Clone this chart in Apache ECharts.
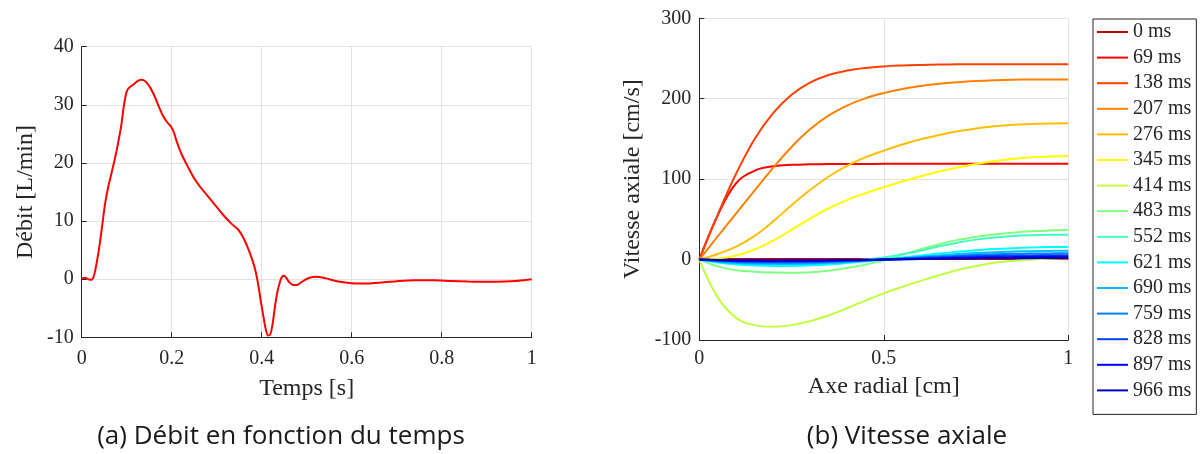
<!DOCTYPE html>
<html><head><meta charset="utf-8">
<script src="https://cdn.jsdelivr.net/npm/echarts@6/dist/echarts.min.js"></script>
<style>html,body{margin:0;padding:0;background:#fff}#c{width:1200px;height:454px}</style>
</head><body><div id="c"></div>
<script>
// ---- (a) Débit en fonction du temps ----
const timeS = [0,0.008,0.015,0.022,0.028,0.033,0.04,0.046,0.052,0.059,0.067,0.074,0.081,0.088,0.094,0.1,0.106,0.115,0.125,0.133,0.142,0.152,0.163,0.174,0.182,0.19,0.198,0.205,0.212,0.222,0.235,0.248,0.263,0.278,0.296,0.315,0.332,0.348,0.358,0.367,0.376,0.385,0.392,0.398,0.404,0.409,0.414,0.419,0.424,0.429,0.434,0.44,0.445,0.449,0.455,0.462,0.47,0.478,0.49,0.505,0.52,0.535,0.55,0.57,0.6,0.63,0.66,0.7,0.74,0.78,0.82,0.86,0.9,0.94,0.97,1.0];
const debit = [0.1,0.25,0.0,-0.1,0.8,2.7,6.0,9.5,13.0,15.9,18.5,20.8,23.5,26.5,30.0,32.3,33.0,33.5,34.1,34.3,34.0,33.0,31.3,29.2,27.9,27.0,26.3,25.2,23.5,21.5,19.5,17.6,15.9,14.5,12.8,11.0,9.6,8.5,7.3,5.8,4.0,1.8,-0.8,-3.8,-6.5,-8.6,-9.7,-9.5,-7.8,-5.0,-2.5,-0.6,0.4,0.6,0.2,-0.6,-1.0,-1.0,-0.4,0.2,0.4,0.3,0.0,-0.4,-0.7,-0.75,-0.6,-0.35,-0.2,-0.2,-0.3,-0.4,-0.45,-0.4,-0.25,0.0];

// ---- (b) Vitesse axiale ----
const radial = [0,0.05,0.1,0.15,0.2,0.25,0.3,0.35,0.4,0.45,0.5,0.55,0.6,0.65,0.7,0.75,0.8,0.85,0.9,0.95,1];
const vitesse0ms   = [0,0.8,0.8,0.8,0.8,0.8,0.8,0.8,0.8,0.8,0.8,0.8,0.8,0.8,0.8,0.8,0.8,0.8,0.8,0.8,0.8];
const vitesse69ms  = [0,55,95,110.5,116,117.8,118.4,118.7,118.8,118.9,119,119,119,119,119,119,119,119,119,119,119];
const vitesse138ms = [0,56,107,150,182,205,220,229.5,235,238.3,240.2,241.3,242,242.5,242.8,243,243,243,243,243,243];
const vitesse207ms = [0,29,57.5,86,114,140,162,179,191.5,200.5,207,212,215.7,218.5,220.5,222,223,223.6,223.9,224,224];
const vitesse276ms = [0,7,16,29.5,47.5,67.5,86.5,103,116.5,127,135.5,143,149.5,155,159.5,163,165.7,167.6,168.7,169.3,169.5];
const vitesse345ms = [0,1.2,5,12.5,23.5,37,51,63.5,74,82.5,90,97,103.5,109.5,114.5,118.8,122.5,125.2,127.1,128.2,128.7];
const vitesse414ms = [0,-47,-72.5,-81.5,-83.4,-81.5,-76.5,-69.5,-60.5,-51,-42,-34,-26.5,-19.5,-13,-8,-4,-1.5,0,1,1.5];
const vitesse483ms = [0,-8.5,-13.2,-15,-16,-16.3,-15.8,-13.8,-10.5,-6.3,-1,6,13,19,24.5,28.3,31.2,33.5,35.2,36.3,36.8];
const vitesse552ms = [0,-2.8,-4.5,-5.4,-5.7,-5.5,-4.8,-3.5,-1.8,0,2.5,6.5,11,16.5,21,24.8,27.5,29.3,30.3,30.8,31];
const vitesse621ms = [0,-3.8,-6.2,-7.5,-8,-7.9,-7.2,-6,-4.3,-2.3,0,2.5,5,7.5,9.7,11.6,13.1,14.2,15,15.5,15.7];
const vitesse690ms = [0,-2.7,-4.3,-5.2,-5.6,-5.5,-5,-4.2,-3,-1.6,0,1.7,3.5,5.2,6.8,8.1,9.2,9.9,10.5,10.8,11];
const vitesse759ms = [0,-1.9,-3.1,-3.7,-4,-3.9,-3.6,-3,-2.1,-1.1,0,1.2,2.5,3.7,4.8,5.8,6.5,7.1,7.5,7.7,7.8];
const vitesse828ms = [0,-1.3,-2.2,-2.6,-2.8,-2.8,-2.5,-2.1,-1.5,-0.8,0,0.9,1.8,2.6,3.4,4.1,4.6,5,5.2,5.4,5.5];
const vitesse897ms = [0,-0.8,-1.4,-1.6,-1.8,-1.7,-1.6,-1.3,-0.9,-0.5,0,0.5,1.1,1.6,2.1,2.5,2.9,3.1,3.3,3.4,3.5];
const vitesse966ms = [0,-0.5,-0.7,-0.9,-1,-0.9,-0.9,-0.7,-0.5,-0.3,0,0.3,0.6,0.9,1.2,1.4,1.6,1.7,1.8,1.9,1.9];
const timeLabels = ['0 ms','69 ms','138 ms','207 ms','276 ms','345 ms','414 ms','483 ms','552 ms','621 ms','690 ms','759 ms','828 ms','897 ms','966 ms'];
const vitesseSeries = [vitesse0ms,vitesse69ms,vitesse138ms,vitesse207ms,vitesse276ms,vitesse345ms,vitesse414ms,vitesse483ms,vitesse552ms,vitesse621ms,vitesse690ms,vitesse759ms,vitesse828ms,vitesse897ms,vitesse966ms];

// ---- styles ----
const jetColors = ['#BF0000','#FF0000','#FF4000','#FF8000','#FFBF00','#FFFF00','#BFFF40','#80FF80','#40FFBF','#00FFFF','#00BFFF','#0080FF','#0040FF','#0000FF','#0000BF'];
const ink = '#262626';
const gridCol = '#e3e3e3';
const serif = '"Liberation Serif", "DejaVu Serif", serif';
const sans = '"Open Sans", Lato, sans-serif';

function xAxisCfg(grid, min, max, interval, name, gap, margin) {
  return {
    gridIndex: grid, type: 'value', min: min, max: max, interval: interval,
    axisLine: { show: true, onZero: false, lineStyle: { color: ink, width: 1 } },
    axisTick: { show: true, inside: true, length: 5, lineStyle: { color: ink } },
    axisLabel: { fontFamily: serif, fontSize: 20, color: ink, margin: margin },
    splitLine: { show: true, lineStyle: { color: gridCol, width: 1 } },
    name: name, nameLocation: 'middle', nameGap: gap,
    nameTextStyle: { fontFamily: serif, fontSize: 24, color: ink, verticalAlign: 'middle' }
  };
}
function yAxisCfg(grid, min, max, interval, name, gap, margin) {
  return {
    gridIndex: grid, type: 'value', min: min, max: max, interval: interval,
    axisLine: { show: true, onZero: false, lineStyle: { color: ink, width: 1 } },
    axisTick: { show: true, inside: true, length: 5, lineStyle: { color: ink } },
    axisLabel: { fontFamily: serif, fontSize: 20, color: ink, margin: margin },
    splitLine: { show: true, lineStyle: { color: gridCol, width: 1 } },
    name: name, nameLocation: 'middle', nameGap: gap, nameRotate: 90,
    nameTextStyle: { fontFamily: serif, fontSize: 24, color: ink, verticalAlign: 'middle' }
  };
}

const series = [{
  type: 'line', xAxisIndex: 0, yAxisIndex: 0, symbol: 'none', smooth: 0.3,
  data: timeS.map((t, i) => [t, debit[i]]),
  lineStyle: { color: '#FF0000', width: 2 }, itemStyle: { color: '#FF0000' }, z: 3
}];
vitesseSeries.forEach((arr, k) => {
  series.push({
    name: timeLabels[k], type: 'line', xAxisIndex: 1, yAxisIndex: 1, symbol: 'none', smooth: 0.4,
    data: radial.map((r, i) => [r, arr[i]]),
    lineStyle: { color: jetColors[k], width: 2 }, itemStyle: { color: jetColors[k] }, z: 3 + k
  });
});

const chart = echarts.init(document.getElementById('c'));
chart.setOption({
  animation: false,
  backgroundColor: '#ffffff',
  grid: [
    { left: 81.7, right: 1200 - 531.7, top: 46.7, bottom: 454 - 337.3 },
    { left: 699.3, right: 1200 - 1068.3, top: 18.3, bottom: 454 - 340 }
  ],
  xAxis: [
    xAxisCfg(0, 0, 1, 0.2, 'Temps [s]', 51, 11),
    xAxisCfg(1, 0, 1, 0.5, 'Axe radial [cm]', 47, 9)
  ],
  yAxis: [
    yAxisCfg(0, -10, 40, 10, 'Débit [L/min]', 56, 8),
    yAxisCfg(1, -100, 300, 100, 'Vitesse axiale [cm/s]', 67, 8)
  ],
  legend: {
    data: timeLabels, orient: 'vertical', left: 1093, top: 19,
    backgroundColor: '#ffffff', borderColor: ink, borderWidth: 1,
    padding: [3, 5, 14, 4], itemWidth: 31, itemHeight: 20, itemGap: 5.6,
    textStyle: { fontFamily: serif, fontSize: 20, lineHeight: 20, color: ink },
    icon: 'path://M0,0 L31,0 L31,2 L0,2 Z'
  },
  graphic: [
    { type: 'text', x: 281, y: 437, style: { text: '(a) Débit en fonction du temps', fontFamily: sans, fontSize: 26, fill: '#1a1a1a', align: 'center', verticalAlign: 'middle' } },
    { type: 'text', x: 907, y: 437, style: { text: '(b) Vitesse axiale', fontFamily: sans, fontSize: 26, fill: '#1a1a1a', align: 'center', verticalAlign: 'middle' } }
  ],
  series: series
});
</script></body></html>
